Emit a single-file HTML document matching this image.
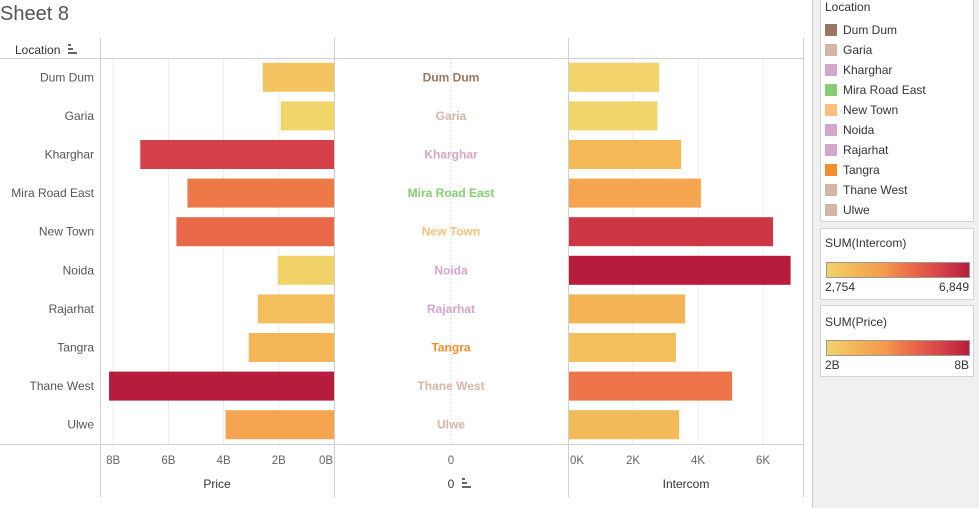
<!DOCTYPE html>
<html><head><meta charset="utf-8">
<style>
body{margin:0;width:979px;height:508px;background:#fff;font-family:"Liberation Sans",sans-serif;overflow:hidden;position:relative}
.legbox{position:absolute;background:#fff;border:1px solid #d4d4d4}
.li{position:absolute;left:4px;font-size:12px;color:#333}
.sw{position:absolute;left:4px;width:12px;height:12px}
</style></head><body>
<div style="position:absolute;left:0;top:3px;font-size:20px;color:#555">Sheet 8</div>
<svg id="chart" width="812" height="508" style="position:absolute;left:0;top:0"></svg>
<div style="position:absolute;left:812px;top:0;width:167px;height:508px;background:#f0f0f0;border-left:1px solid #ccc">
 <div class="legbox" style="left:7px;top:-1px;width:152px;height:221px">
  <div style="position:absolute;left:4px;top:0;font-size:12px;color:#333">Location</div>
  <div id="locleg"></div>
 </div>
 <div class="legbox" style="left:7px;top:228px;width:152px;height:70px">
  <div style="position:absolute;left:4px;top:7px;font-size:12px;color:#333">SUM(Intercom)</div>
  <div style="position:absolute;left:5px;top:33px;width:142px;height:14px;border:1px solid #999;background:linear-gradient(90deg,#f1d56b,#f4b455,#f59b4c,#ea6a47,#d8434a,#b81c3c)"></div>
  <div style="position:absolute;left:4px;top:51px;font-size:12px;color:#333">2,754</div>
  <div style="position:absolute;right:4px;top:51px;font-size:12px;color:#333">6,849</div>
 </div>
 <div class="legbox" style="left:7px;top:305px;width:152px;height:70px">
  <div style="position:absolute;left:4px;top:9px;font-size:12px;color:#333">SUM(Price)</div>
  <div style="position:absolute;left:5px;top:34px;width:142px;height:14px;border:1px solid #999;background:linear-gradient(90deg,#f1d56b,#f4b455,#f59b4c,#ea6a47,#d8434a,#b81c3c)"></div>
  <div style="position:absolute;left:4px;top:52px;font-size:12px;color:#333">2B</div>
  <div style="position:absolute;right:4px;top:52px;font-size:12px;color:#333">8B</div>
 </div>
</div>
<script>
const locations=["Dum Dum","Garia","Kharghar","Mira Road East","New Town","Noida","Rajarhat","Tangra","Thane West","Ulwe"];
const priceB=[2.58,1.93,7.02,5.31,5.71,2.04,2.76,3.09,8.15,3.93];
const intercomK=[2.80,2.754,3.48,4.09,6.31,6.849,3.60,3.32,5.05,3.42];
const locColors=["#9c7560","#d7b5a6","#d4a6c8","#86cc75","#ffbe7d","#d4a6c8","#d4a6c8","#f28e2b","#d7b5a6","#d7b5a6"];
const priceTicks=[8,6,4,2,0];
const intercomTicks=[0,2,4,6];
const NS="http://www.w3.org/2000/svg";
const svg=document.getElementById('chart');
function el(t,a){const e=document.createElementNS(NS,t);for(const k in a)e.setAttribute(k,a[k]);svg.appendChild(e);return e;}
const stops=["#f1d56b","#f4b455","#f59b4c","#ea6a47","#d8434a","#b81c3c"].map(h=>[1,3,5].map(i=>parseInt(h.substr(i,2),16)));
function ramp(t){t=Math.max(0,Math.min(1,t))*(stops.length-1);const i=Math.min(Math.floor(t),stops.length-2),f=t-i;const c=stops[i].map((v,j)=>Math.round(v+(stops[i+1][j]-v)*f));return`rgb(${c})`;}
const rowTop=58,rowH=38.6;
const yC=i=>rowTop+rowH*(i+0.5);
const xP=v=>334-v*27.6;
const xI=v=>568+v*32.5;
// gridlines
priceTicks.forEach(t=>{if(t>0){const g=el('line',{x1:xP(t),x2:xP(t),y1:58,y2:444,stroke:'#ececec'});}});
intercomTicks.forEach(t=>{if(t>0){const g=el('line',{x1:xI(t),x2:xI(t),y1:58,y2:444,stroke:'#ececec'});}});
el('line',{x1:451,x2:451,y1:58,y2:444,stroke:'#ddd','stroke-dasharray':'2,2'});
const pMin=Math.min(...priceB),pMax=Math.max(...priceB),iMin=Math.min(...intercomK),iMax=Math.max(...intercomK);
locations.forEach((l,i)=>{
 const y=yC(i);
 const lab=el('text',{x:94,y:y+4,'text-anchor':'end','font-size':12,fill:'#555'});lab.textContent=l;
 
 const pb=el('rect',{x:xP(priceB[i]),y:y-14.5,width:xP(0)-xP(priceB[i]),height:29,fill:ramp((priceB[i]-pMin)/(pMax-pMin))});
 
 const mt=el('text',{x:451,y:y+4,'text-anchor':'middle','font-size':12,'font-weight':'bold',fill:locColors[i]});mt.textContent=l;
 
 const ib=el('rect',{x:xI(0),y:y-14.5,width:xI(intercomK[i])-xI(0),height:29,fill:ramp((intercomK[i]-iMin)/(iMax-iMin))});
 
});
// frame lines
[[100,38,100,497],[334,38,334,497],[568,38,568,497],[803,38,803,497]].forEach(a=>el('line',{x1:a[0]+.5,y1:a[1],x2:a[2]+.5,y2:a[3],stroke:'#d0d0d0'}));
el('line',{x1:0,y1:58.5,x2:803,y2:58.5,stroke:'#d0d0d0'});
el('line',{x1:0,y1:444.5,x2:803,y2:444.5,stroke:'#d0d0d0'});
const hdr=el('text',{x:15,y:54,'font-size':12,fill:'#333'});hdr.textContent='Location';

el('path',{d:'M68 45h3M68 49h5M68 53h9',stroke:'#333','stroke-width':1.5});
priceTicks.forEach(t=>{const tx=el('text',{x:xP(t)-(t===0?8:0),y:464,'text-anchor':'middle','font-size':11.5,fill:'#666'});tx.textContent=t+'B';});
intercomTicks.forEach(t=>{const tx=el('text',{x:xI(t)+(t===0?9:0),y:464,'text-anchor':'middle','font-size':11.5,fill:'#666'});tx.textContent=t+'K';});
const z=el('text',{x:451,y:464,'text-anchor':'middle','font-size':11.5,fill:'#666'});z.textContent='0';
const pt=el('text',{x:217,y:488,'text-anchor':'middle','font-size':12,fill:'#333'});pt.textContent='Price';
const zt=el('text',{x:451,y:488,'text-anchor':'middle','font-size':12,fill:'#333'});zt.textContent='0';
el('path',{d:'M462 479h3M462 483h5M462 487h9',stroke:'#333','stroke-width':1.5});
const it=el('text',{x:686,y:488,'text-anchor':'middle','font-size':12,fill:'#333'});it.textContent='Intercom';
// location legend
const lg=document.getElementById('locleg');
locations.forEach((l,i)=>{
 const s=document.createElement('div');s.className='sw';s.style.top=(24+i*20)+'px';s.style.background=locColors[i];
 
 
 const t=document.createElement('div');t.className='li';t.style.left='22px';t.style.top=(23+i*20)+'px';t.textContent=l;
 
 
 lg.appendChild(s);lg.appendChild(t);
});
</script>
</body></html>
